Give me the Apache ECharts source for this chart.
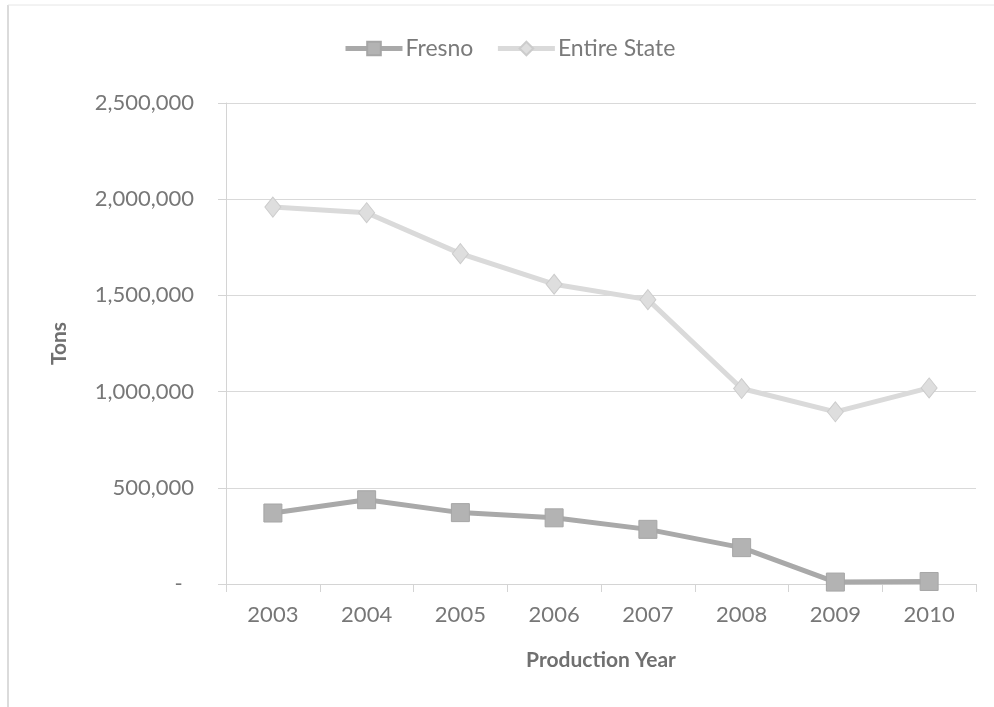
<!DOCTYPE html>
<html>
<head>
<meta charset="utf-8">
<script src="https://cdn.jsdelivr.net/npm/echarts@6/dist/echarts.min.js"></script>
<style>html,body{margin:0;padding:0;background:#fff;}#c{width:994px;height:707px;}</style>
</head>
<body>
<div id="c"></div>
<script>
var years = ['2003','2004','2005','2006','2007','2008','2009','2010'];
var fresno = [369000, 438000, 371000, 344000, 284000, 189000, 10000, 13000];
var entireState = [1959000, 1930000, 1717000, 1558000, 1478000, 1016000, 895000, 1019000];
var seriesNames = ['Fresno', 'Entire State'];
var yTicks = [0, 500000, 1000000, 1500000, 2000000, 2500000];

var FONT = 'Lato';
var chart = echarts.init(document.getElementById('c'), null, {renderer: 'canvas'});
chart.setOption({
  backgroundColor: '#ffffff',
  animation: false,
  textStyle: {fontFamily: FONT},
  graphic: [
    {type: 'line', shape: {x1: 8, y1: 5, x2: 8, y2: 707}, style: {stroke: '#cfcfcf', lineWidth: 1.5}},
    {type: 'line', shape: {x1: 8, y1: 5, x2: 994, y2: 5}, style: {stroke: '#e6e6e6', lineWidth: 1}}
  ],
  legend: {
    data: seriesNames,
    left: 338,
    top: 32,
    itemWidth: 57,
    itemHeight: 17,
    itemGap: 22,
    lineStyle: {width: 5},
    textStyle: {fontFamily: FONT, fontSize: 23, color: '#7a7a7a', padding: [0, 0, 0, -2]}
  },
  grid: {left: 226, right: 18, top: 103, bottom: 123, containLabel: false},
  xAxis: {
    type: 'category',
    data: years,
    boundaryGap: true,
    name: 'Production Year',
    nameLocation: 'middle',
    nameGap: 66,
    nameTextStyle: {fontFamily: FONT, fontSize: 21, fontWeight: 'bold', color: '#707070'},
    axisLine: {lineStyle: {color: '#d4d4d4', width: 1}},
    axisTick: {show: true, length: 8, alignWithLabel: false, lineStyle: {color: '#d4d4d4'}},
    axisLabel: {fontFamily: FONT, fontSize: 22, color: '#777777', margin: 20}
  },
  yAxis: {
    type: 'value',
    min: 0,
    max: 2500000,
    interval: 500000,
    name: 'Tons',
    nameLocation: 'middle',
    nameGap: 156,
    nameTextStyle: {fontFamily: FONT, fontSize: 21, fontWeight: 'bold', color: '#707070'},
    axisLine: {show: true, lineStyle: {color: '#d4d4d4', width: 1}},
    axisTick: {show: true, length: 8, lineStyle: {color: '#d4d4d4'}},
    splitLine: {show: true, lineStyle: {color: '#d9d9d9', width: 1}},
    axisLabel: {
      fontFamily: FONT, fontSize: 22, color: '#777777', margin: 32,
      formatter: function (v) {
        if (v === 0) return '-\u00a0\u00a0';
        return v.toString().replace(/\B(?=(\d{3})+(?!\d))/g, ',');
      }
    }
  },
  series: [
    {
      name: seriesNames[0],
      type: 'line',
      data: fresno,
      symbol: 'rect',
      symbolSize: 18,
      lineStyle: {color: '#a9a9a9', width: 5},
      itemStyle: {color: '#b3b3b3', borderColor: '#a6a6a6', borderWidth: 1},
      z: 3
    },
    {
      name: seriesNames[1],
      type: 'line',
      data: entireState,
      symbol: 'diamond',
      symbolSize: [16, 20],
      lineStyle: {color: '#dadada', width: 5},
      itemStyle: {color: '#dedede', borderColor: '#cccccc', borderWidth: 1},
      z: 2
    }
  ]
});
</script>
</body>
</html>
